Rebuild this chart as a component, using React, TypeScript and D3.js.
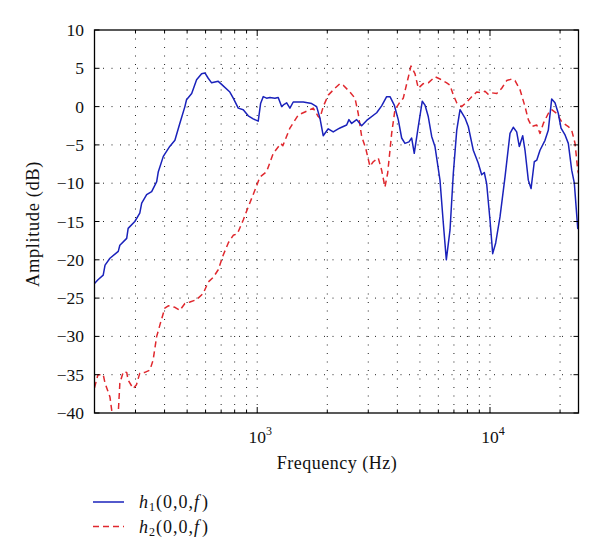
import React from "react";
import * as d3 from "d3";

// ---- data (frequency in Hz, amplitude in dB) ----
const h1Freq = [200, 207, 218, 222, 233, 253, 257, 275, 279, 298, 313, 319, 335, 352, 370, 376, 395, 421, 443, 465, 489, 497, 523, 549, 577, 596, 616, 637, 680, 703, 763, 789, 829, 871, 915, 961, 1010, 1034, 1061, 1097, 1134, 1191, 1231, 1273, 1306, 1338, 1382, 1428, 1501, 1577, 1714, 1800, 1860, 1921, 2019, 2121, 2229, 2267, 2422, 2478, 2545, 2674, 2810, 2953, 3260, 3424, 3598, 3719, 3879, 4036, 4174, 4312, 4486, 4608, 4728, 4919, 5118, 5257, 5430, 5617, 5802, 6098, 6301, 6492, 6734, 6958, 7196, 7435, 7812, 8068, 8477, 8907, 9211, 9452, 9679, 10000, 10270, 10580, 11040, 11600, 12190, 12590, 13020, 13360, 13820, 14140, 14610, 15010, 15500, 15880, 16400, 17230, 17800, 18410, 19020, 19660, 20190, 21010, 21700, 22440, 23030, 23820, 24000];
const h1Amp = [-23.1, -22.6, -22.0, -20.7, -19.8, -18.9, -18.1, -17.2, -15.9, -15.0, -13.9, -12.6, -11.5, -11.1, -9.8, -8.5, -6.5, -5.2, -4.4, -2.2, 0.0, 0.9, 1.7, 3.5, 4.3, 4.4, 3.7, 3.1, 3.3, 2.9, 1.9, 1.1, -0.2, -0.4, -1.2, -1.6, -1.9, 0.4, 1.3, 1.1, 1.2, 1.1, 1.2, 0.0, 0.3, 0.5, -0.2, 0.6, 0.6, 0.6, 0.4, 0.0, -1.5, -3.8, -2.9, -3.3, -2.9, -2.8, -2.4, -1.7, -2.2, -1.7, -2.5, -1.8, -0.8, 0.1, 1.3, 1.3, 0.2, -1.7, -4.1, -4.8, -4.6, -4.1, -6.1, -2.6, 0.7, 0.2, -1.3, -3.9, -5.2, -9.6, -15.2, -20.0, -16.1, -8.7, -3.1, -0.4, -1.5, -2.6, -5.7, -7.4, -8.9, -8.6, -10.1, -14.8, -19.2, -17.8, -14.4, -9.2, -3.5, -2.7, -3.3, -5.2, -3.8, -5.7, -9.6, -10.7, -7.2, -7.0, -5.7, -4.4, -3.1, 1.0, 0.5, -0.9, -2.8, -3.7, -4.8, -8.3, -10.0, -15.9, -15.5];

const h2Freq = [200, 207, 218, 222, 233, 237, 240, 249, 253, 257, 266, 275, 279, 293, 303, 313, 329, 346, 357, 370, 382, 401, 415, 443, 465, 489, 514, 549, 586, 616, 647, 680, 714, 751, 789, 822, 871, 915, 978, 1027, 1097, 1172, 1264, 1289, 1382, 1501, 1603, 1684, 1741, 1829, 1860, 1921, 2019, 2158, 2267, 2342, 2502, 2630, 2716, 2810, 2923, 3050, 3151, 3311, 3424, 3538, 3634, 3781, 3906, 4105, 4241, 4430, 4577, 4761, 4919, 5169, 5430, 5802, 6098, 6517, 6734, 6958, 7196, 7556, 7940, 8346, 8767, 9211, 9517, 9833, 10170, 10690, 11230, 11800, 12400, 12810, 13460, 14140, 14610, 15110, 15880, 16400, 16950, 17800, 18410, 19350, 20330, 21700, 22440, 23190, 23820, 24000];
const h2Amp = [-36.7, -35.0, -35.0, -36.1, -37.9, -39.6, -40.9, -40.9, -40.0, -36.1, -34.6, -34.7, -35.7, -36.8, -36.3, -34.8, -34.7, -34.4, -33.1, -30.0, -28.5, -26.3, -26.0, -26.2, -26.6, -25.7, -25.5, -25.2, -24.4, -22.9, -22.3, -21.3, -19.4, -17.8, -16.8, -16.6, -14.8, -13.1, -10.9, -9.2, -8.5, -6.1, -4.8, -5.1, -2.8, -1.1, -0.7, -0.4, -0.2, -1.3, -1.5, 0.0, 1.5, 2.4, 3.0, 2.8, 1.9, 1.1, -0.9, -3.9, -5.4, -7.8, -7.2, -6.7, -8.3, -10.5, -8.7, -3.5, -0.4, 0.6, 1.1, 3.5, 5.3, 4.3, 2.4, 3.0, 3.1, 3.9, 3.6, 3.1, 2.8, 1.5, 0.5, 0.0, 0.6, 1.3, 1.9, 1.8, 2.0, 1.6, 1.8, 1.7, 2.4, 3.4, 3.6, 3.4, 2.2, 0.0, -1.7, -2.6, -2.4, -3.5, -2.2, -0.9, -0.4, -0.9, -2.0, -2.6, -3.1, -4.8, -8.3, -8.7];

const yTicks = [10, 5, 0, -5, -10, -15, -20, -25, -30, -35, -40];
const xMinor = [200, 300, 400, 500, 600, 700, 800, 900, 1000, 2000, 3000, 4000, 5000, 6000, 7000, 8000, 9000, 10000, 20000];
const xMajor = [1000, 10000];
const xMajorExp = ["3", "4"];

const FONT = "'Liberation Serif', 'DejaVu Serif', serif";
const BLUE = "#1a22bb";
const RED = "#e0282e";

export default function App() {
  const left = 94.5, right = 578.5, top = 30, bottom = 413;
  const x = d3.scaleLog().domain([200, 24000]).range([left, right]);
  const y = d3.scaleLinear().domain([-40, 10]).range([bottom, top]);
  const line = d3.line<[number, number]>().x((d) => x(d[0])).y((d) => y(d[1]));
  const s1 = line(h1Freq.map((f, i) => [f, h1Amp[i]] as [number, number])) || "";
  const s2 = line(h2Freq.map((f, i) => [f, h2Amp[i]] as [number, number])) || "";

  return (
    <svg width={600} height={559} style={{ position: "absolute", left: 0, top: 0, background: "#fff" }} fontFamily={FONT}>
      <defs>
        <clipPath id="plotclip">
          <rect x={left} y={top} width={right - left} height={bottom - top} />
        </clipPath>
      </defs>
      <rect x={0} y={0} width={600} height={559} fill="#fff" />
      {/* grid */}
      <g stroke="#222" strokeWidth={1} strokeDasharray="1,7.5">
        {xMinor.filter((f) => f > 200).map((f) => (
          <line key={"gx" + f} x1={x(f)} x2={x(f)} y1={top} y2={bottom} />
        ))}
        {yTicks.filter((v) => v > -40 && v < 10).map((v) => (
          <line key={"gy" + v} x1={left} x2={right} y1={y(v)} y2={y(v)} />
        ))}
      </g>
      {/* curves */}
      <g clipPath="url(#plotclip)" fill="none" strokeLinejoin="round">
        <path d={s2} stroke={RED} strokeWidth={1.5} strokeDasharray="6,4" />
        <path d={s1} stroke={BLUE} strokeWidth={1.5} />
      </g>
      {/* ticks */}
      <g stroke="#000" strokeWidth={1}>
        {xMinor.map((f) => {
          const len = xMajor.includes(f) ? 6 : 3.5;
          return (
            <g key={"tx" + f}>
              <line x1={x(f)} x2={x(f)} y1={bottom} y2={bottom - len} />
              <line x1={x(f)} x2={x(f)} y1={top} y2={top + len} />
            </g>
          );
        })}
        {yTicks.map((v) => (
          <g key={"ty" + v}>
            <line x1={left} x2={left + 5} y1={y(v)} y2={y(v)} />
            <line x1={right} x2={right - 5} y1={y(v)} y2={y(v)} />
          </g>
        ))}
      </g>
      <rect x={left} y={top} width={right - left} height={bottom - top} fill="none" stroke="#000" strokeWidth={1.3} />
      {/* y tick labels */}
      <g fontSize={17.5} textAnchor="end" fill="#111">
        {yTicks.map((v) => (
          <text key={"yl" + v} x={84} y={y(v) + 6}>
            {v < 0 ? "\u2212" + Math.abs(v) : String(v)}
          </text>
        ))}
      </g>
      {/* x tick labels */}
      <g fontSize={17.5} fill="#111">
        {xMajor.map((f, i) => (
          <text key={"xl" + f} x={x(f) + 3} y={443} textAnchor="middle">
            10<tspan fontSize={12} dy={-8}>{xMajorExp[i]}</tspan>
          </text>
        ))}
      </g>
      <text x={337} y={469} fontSize={18} letterSpacing={0.5} textAnchor="middle" fill="#111">Frequency (Hz)</text>
      <text transform={`translate(39,224) rotate(-90)`} fontSize={18.5} letterSpacing={0.6} textAnchor="middle" fill="#111">Amplitude (dB)</text>
      {/* legend */}
      <line x1={93} x2={124} y1={502} y2={502} stroke={BLUE} strokeWidth={1.5} />
      <line x1={93} x2={124} y1={526.5} y2={526.5} stroke={RED} strokeWidth={1.5} strokeDasharray="6,4" />
      <g fontSize={18} fill="#111" letterSpacing={1}>
        <text x={139} y={508}>
          <tspan fontStyle="italic">h</tspan><tspan fontSize={12} dy={3}>1</tspan><tspan dy={-3}>(0,0,</tspan><tspan fontStyle="italic">f</tspan><tspan dx={2}>)</tspan>
        </text>
        <text x={139} y={532.5}>
          <tspan fontStyle="italic">h</tspan><tspan fontSize={12} dy={3}>2</tspan><tspan dy={-3}>(0,0,</tspan><tspan fontStyle="italic">f</tspan><tspan dx={2}>)</tspan>
        </text>
      </g>
    </svg>
  );
}
